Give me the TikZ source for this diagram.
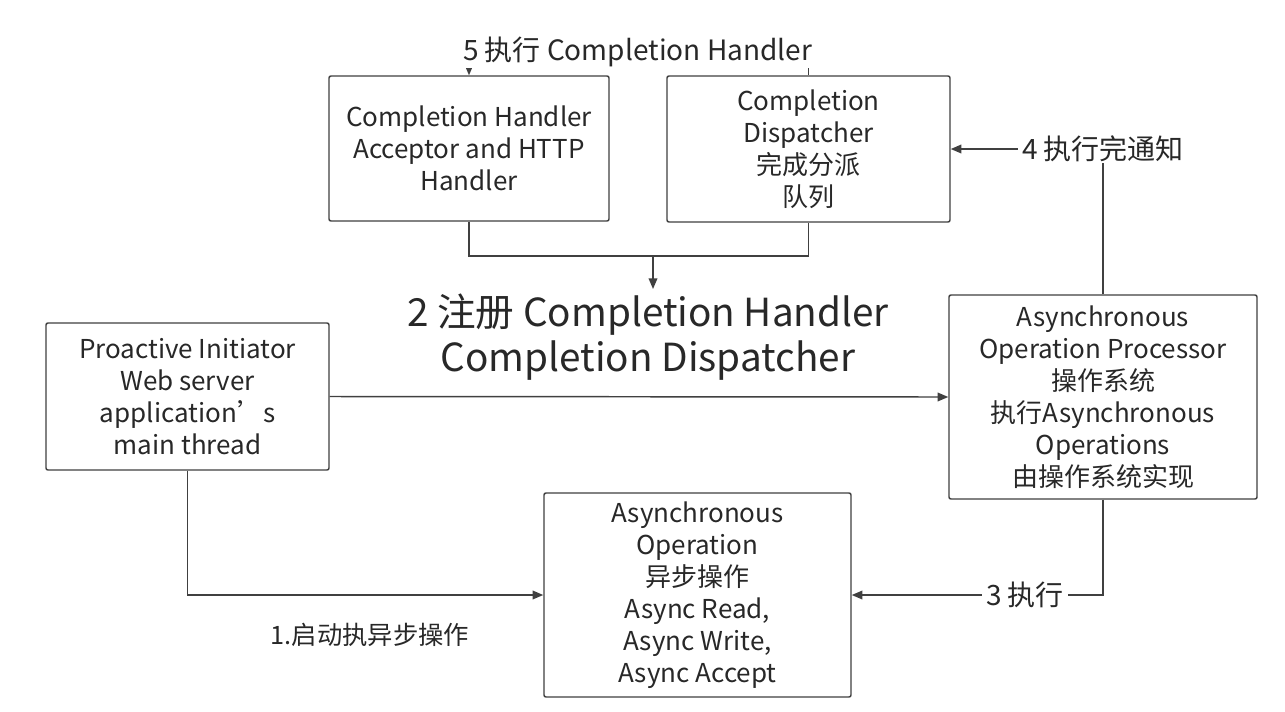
\documentclass[tikz,border=0pt]{standalone}
\usepackage{fontspec}
\setmainfont{Noto Sans CJK SC}
\usetikzlibrary{arrows.meta}
\definecolor{linec}{RGB}{64,64,64}
\definecolor{textc}{RGB}{40,40,40}
\tikzset{
  box/.style={draw=linec, line width=1.1pt, rounded corners=1.5pt, inner sep=0pt, align=center,
    text=textc, font=\fontsize{19.5pt}{24pt}\selectfont},
  conn/.style={draw=linec, line width=1.1pt},
  arr/.style={conn, -{Triangle[length=8pt,width=6.5pt]}},
  elabel/.style={fill=white, inner xsep=3pt, inner ysep=1pt, text=textc, font=\fontsize{21pt}{24pt}\selectfont},
  biglabel/.style={inner sep=0pt, align=center, text=textc, font=\fontsize{29pt}{34pt}\selectfont}
}
\begin{document}
\begin{tikzpicture}[x=0.75pt, y=-0.75pt]
\useasboundingbox (0,0) rectangle (1285,711);
\fill[white] (0,0) rectangle (1285,711);

\node[box, minimum width=210pt, minimum height=108.75pt] (handler) at (469,148.5)
  {Completion Handler\\Acceptor and HTTP\\Handler};
\node[box, minimum width=212.25pt, minimum height=109.5pt] (disp) at (808.5,149)
  {Completion\\Dispatcher\\完成分派\\队列};
\node[box, minimum width=212.25pt, minimum height=110.25pt] (init) at (187.5,396.5)
  {Proactive Initiator\\Web server\\application’s\\main thread};
\node[box, minimum width=231pt, minimum height=153pt] (proc) at (1103,397)
  {Asynchronous\\Operation Processor\\操作系统\\执行Asynchronous\\Operations\\由操作系统实现};
\node[box, minimum width=230.25pt, minimum height=153pt] (asyncop) at (697.5,595)
  {Asynchronous\\Operation\\异步操作\\Async Read,\\Async Write,\\Async Accept};

\node[biglabel] (reg) at (648,337) {2 注册 Completion Handler\\Completion Dispatcher};

\coordinate (mid) at (653,256);
\coordinate (regtop) at (653,289);
\draw[conn] (handler.south) |- (mid);
\draw[conn] (disp.south) |- (mid);
\draw[arr] (mid) -- (regtop);

\draw[arr] (disp.north) -- ++(0,-12) -| (handler.north);
\node[elabel] (l5) at (637.5,52) {5 执行 Completion Handler};

\draw[arr] (proc.north) |- (disp.east) node[elabel, pos=0.5] (l4) {4 执行完通知};
\draw[arr] (proc.south) |- (asyncop.east) node[elabel, pos=0.655] (l3) {3 执行};
\draw[arr] (init.east) -- (proc.west);
\draw[arr] (init.south) |- (asyncop.west);
\node[text=textc, font=\fontsize{19pt}{24pt}\selectfont] (l1) at (370,635) {1.启动执异步操作};
\end{tikzpicture}
\end{document}
